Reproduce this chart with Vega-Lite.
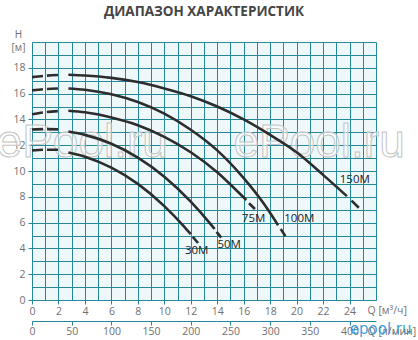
{
  "$schema": "https://vega.github.io/schema/vega-lite/v6.json",
  "width": 344,
  "height": 258,
  "autosize": "none",
  "padding": {"left": 32, "top": 42, "right": 42, "bottom": 40},
  "background": "white",
  "title": {"text": "ДИАПАЗОН ХАРАКТЕРИСТИК", "font": "Open Sans", "fontSize": 13.5, "fontWeight": "bold", "color": "#454545", "anchor": "middle", "offset": 11},
  "config": {
    "font": "Open Sans",
    "view": {"fill": "#eef8fa", "stroke": null},
    "axis": {"domainColor": "#23889a", "gridColor": "#23889a", "tickColor": "#23889a", "gridOpacity": 1, "gridWidth": 1, "domainWidth": 1, "tickWidth": 1, "labelColor": "#707070", "labelFontSize": 10.5, "labelFont": "Open Sans", "titleFont": "Open Sans", "titleColor": "#707070", "titleFontWeight": "normal", "titleFontSize": 10.5}
  },
  "datasets": {
    "curves": [
      {"m": "150M", "p": "head", "Q": 0, "H": 17.28}, {"m": "150M", "p": "head", "Q": 1, "H": 17.38}, {"m": "150M", "p": "head", "Q": 2.05, "H": 17.45},
      {"m": "100M", "p": "head", "Q": 0, "H": 16.25}, {"m": "100M", "p": "head", "Q": 1, "H": 16.35}, {"m": "100M", "p": "head", "Q": 2.05, "H": 16.4},
      {"m": "75M", "p": "head", "Q": 0, "H": 14.4}, {"m": "75M", "p": "head", "Q": 1, "H": 14.56}, {"m": "75M", "p": "head", "Q": 2.05, "H": 14.65},
      {"m": "50M", "p": "head", "Q": 0, "H": 13.22}, {"m": "50M", "p": "head", "Q": 1, "H": 13.25}, {"m": "50M", "p": "head", "Q": 2.05, "H": 13.22},
      {"m": "30M", "p": "head", "Q": 0, "H": 11.6}, {"m": "30M", "p": "head", "Q": 1, "H": 11.65}, {"m": "30M", "p": "head", "Q": 2.05, "H": 11.65},
      {"m": "150M", "p": "main", "Q": 2.75, "H": 17.46}, {"m": "150M", "p": "main", "Q": 4, "H": 17.4}, {"m": "150M", "p": "main", "Q": 6, "H": 17.22}, {"m": "150M", "p": "main", "Q": 8, "H": 16.9}, {"m": "150M", "p": "main", "Q": 10, "H": 16.4}, {"m": "150M", "p": "main", "Q": 12, "H": 15.8}, {"m": "150M", "p": "main", "Q": 14, "H": 15.0}, {"m": "150M", "p": "main", "Q": 16, "H": 14.0}, {"m": "150M", "p": "main", "Q": 18, "H": 12.8}, {"m": "150M", "p": "main", "Q": 20, "H": 11.45}, {"m": "150M", "p": "main", "Q": 22, "H": 9.7}, {"m": "150M", "p": "main", "Q": 23.8, "H": 8.05},
      {"m": "100M", "p": "main", "Q": 2.75, "H": 16.4}, {"m": "100M", "p": "main", "Q": 4, "H": 16.3}, {"m": "100M", "p": "main", "Q": 6, "H": 15.95}, {"m": "100M", "p": "main", "Q": 8, "H": 15.35}, {"m": "100M", "p": "main", "Q": 10, "H": 14.45}, {"m": "100M", "p": "main", "Q": 12, "H": 13.2}, {"m": "100M", "p": "main", "Q": 14, "H": 11.6}, {"m": "100M", "p": "main", "Q": 16, "H": 9.45}, {"m": "100M", "p": "main", "Q": 17.5, "H": 7.5}, {"m": "100M", "p": "main", "Q": 18.6, "H": 5.8},
      {"m": "75M", "p": "main", "Q": 2.75, "H": 14.67}, {"m": "75M", "p": "main", "Q": 4, "H": 14.55}, {"m": "75M", "p": "main", "Q": 6, "H": 14.15}, {"m": "75M", "p": "main", "Q": 8, "H": 13.55}, {"m": "75M", "p": "main", "Q": 10, "H": 12.65}, {"m": "75M", "p": "main", "Q": 12, "H": 11.45}, {"m": "75M", "p": "main", "Q": 14, "H": 9.9}, {"m": "75M", "p": "main", "Q": 15.5, "H": 8.45}, {"m": "75M", "p": "main", "Q": 16.2, "H": 7.75},
      {"m": "50M", "p": "main", "Q": 2.75, "H": 13.06}, {"m": "50M", "p": "main", "Q": 4, "H": 12.8}, {"m": "50M", "p": "main", "Q": 6, "H": 12.11}, {"m": "50M", "p": "main", "Q": 8, "H": 11.04}, {"m": "50M", "p": "main", "Q": 10, "H": 9.56}, {"m": "50M", "p": "main", "Q": 12, "H": 7.63}, {"m": "50M", "p": "main", "Q": 13.5, "H": 5.88}, {"m": "50M", "p": "main", "Q": 13.8, "H": 5.5},
      {"m": "30M", "p": "main", "Q": 2.75, "H": 11.44}, {"m": "30M", "p": "main", "Q": 4, "H": 11.11}, {"m": "30M", "p": "main", "Q": 6, "H": 10.26}, {"m": "30M", "p": "main", "Q": 8, "H": 9.0}, {"m": "30M", "p": "main", "Q": 10, "H": 7.28}, {"m": "30M", "p": "main", "Q": 11.5, "H": 5.69}, {"m": "30M", "p": "main", "Q": 12.0, "H": 5.1},
      {"m": "150M", "p": "tail", "Q": 24.15, "H": 7.7}, {"m": "150M", "p": "tail", "Q": 24.7, "H": 7.15},
      {"m": "100M", "p": "tail", "Q": 18.8, "H": 5.5}, {"m": "100M", "p": "tail", "Q": 19.15, "H": 4.95},
      {"m": "75M", "p": "tail", "Q": 16.4, "H": 7.5}, {"m": "75M", "p": "tail", "Q": 16.85, "H": 7.05},
      {"m": "50M", "p": "tail", "Q": 13.95, "H": 5.28}, {"m": "50M", "p": "tail", "Q": 14.3, "H": 4.84},
      {"m": "30M", "p": "tail", "Q": 12.15, "H": 4.9}, {"m": "30M", "p": "tail", "Q": 12.55, "H": 4.42}
    ],
    "labels": [
      {"label": "150M", "Q": 24.4, "H": 9.34},
      {"label": "100M", "Q": 20.2, "H": 6.3},
      {"label": "75M", "Q": 16.75, "H": 6.3},
      {"label": "50M", "Q": 14.9, "H": 4.24},
      {"label": "30M", "Q": 12.45, "H": 3.78}
    ],
    "watermark": [
      {"text": "ePool.ru", "Q": 3.8, "H": 12.2},
      {"text": "ePool.ru", "Q": 21.7, "H": 12.2}
    ],
    "logo": [
      {"text": "epool.ru", "Q": 26.35, "H": -2.25}
    ]
  },
  "resolve": {"axis": {"x": "independent", "y": "independent"}},
  "layer": [
    {
      "data": {"name": "watermark"},
      "mark": {"type": "text", "font": "Liberation Sans", "fontSize": 46, "fill": "#ffffff", "fillOpacity": 0.55, "stroke": "#c4c4c4", "strokeWidth": 1, "align": "center", "baseline": "middle"},
      "encoding": {
        "x": {"field": "Q", "type": "quantitative", "axis": null},
        "y": {"field": "H", "type": "quantitative", "axis": null},
        "text": {"field": "text"}
      }
    },
    {
      "data": {"name": "curves"},
      "transform": [{"filter": "datum.p == 'main'"}],
      "mark": {"type": "line", "color": "#2d2d2d", "strokeWidth": 2.6, "interpolate": "monotone"},
      "encoding": {
        "x": {"field": "Q", "type": "quantitative", "scale": {"domain": [0, 26], "nice": false, "zero": true},
          "axis": {"values": [0,1,2,3,4,5,6,7,8,9,10,11,12,13,14,15,16,17,18,19,20,21,22,23,24,25,26], "grid": true, "labelExpr": "datum.value % 2 == 0 && datum.value <= 24 ? datum.label : ''", "tickOpacity": {"condition": {"test": "datum.value % 2 == 0 && datum.value <= 24", "value": 1}, "value": 0}, "tickSize": 4, "labelPadding": 2, "labelFlush": false, "labelOverlap": false, "title": "Q [м³/ч]", "titleX": 335, "titleY": 10, "titleAlign": "left", "titleBaseline": "middle"}},
        "y": {"field": "H", "type": "quantitative", "scale": {"domain": [0, 20], "nice": false},
          "axis": {"values": [0,1,2,3,4,5,6,7,8,9,10,11,12,13,14,15,16,17,18,19,20], "grid": true, "labelExpr": "datum.value % 2 == 0 && datum.value <= 18 ? datum.label : ''", "tickOpacity": {"condition": {"test": "datum.value % 2 == 0 && datum.value <= 18", "value": 1}, "value": 0}, "tickSize": 4, "labelPadding": 3, "labelFlush": false, "labelOverlap": false, "title": ["H", "[м]"], "titleAngle": 0, "titleAlign": "center", "titleBaseline": "top", "titleX": -14, "titleY": -13, "titleLineHeight": 13, "titleFontSize": 10}},
        "detail": {"field": "m"}
      }
    },
    {
      "data": {"name": "curves"},
      "transform": [{"filter": "datum.p == 'head'"}],
      "mark": {"type": "line", "color": "#2d2d2d", "strokeWidth": 2.6, "strokeDash": [11, 4], "interpolate": "monotone"},
      "encoding": {
        "x": {"field": "Q", "type": "quantitative", "axis": null},
        "y": {"field": "H", "type": "quantitative", "axis": null},
        "detail": {"field": "m"}
      }
    },
    {
      "data": {"name": "curves"},
      "transform": [{"filter": "datum.p == 'tail'"}],
      "mark": {"type": "line", "color": "#2d2d2d", "strokeWidth": 2.6},
      "encoding": {
        "x": {"field": "Q", "type": "quantitative",
          "axis": {"orient": "bottom", "offset": 21, "values": [0,3,6,9,12,15,18,21,24], "grid": false, "labelExpr": "format(datum.value * 50 / 3, 'd')", "tickSize": 4, "labelPadding": 1, "labelFlush": false, "labelOverlap": false, "title": "Q [л/мин]", "titleX": 335, "titleY": 10, "titleAlign": "left", "titleBaseline": "middle"}},
        "y": {"field": "H", "type": "quantitative", "axis": null},
        "detail": {"field": "m"}
      }
    },
    {
      "data": {"name": "labels"},
      "mark": {"type": "text", "color": "#222222", "fontSize": 11.5, "font": "Open Sans", "align": "center", "baseline": "middle"},
      "encoding": {
        "x": {"field": "Q", "type": "quantitative", "axis": null},
        "y": {"field": "H", "type": "quantitative", "axis": null},
        "text": {"field": "label"}
      }
    },
    {
      "data": {"name": "logo"},
      "mark": {"type": "text", "font": "DejaVu Sans", "fontSize": 15, "fill": "#2a93d5", "fillOpacity": 0.9, "align": "center", "baseline": "middle"},
      "encoding": {
        "x": {"field": "Q", "type": "quantitative", "axis": null},
        "y": {"field": "H", "type": "quantitative", "axis": null},
        "text": {"field": "text"}
      }
    }
  ]
}
